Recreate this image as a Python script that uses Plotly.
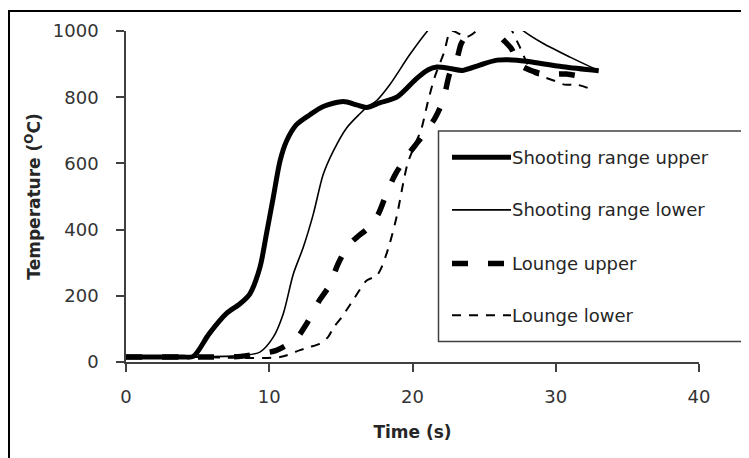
import plotly.graph_objects as go

# ---------------- data ----------------
series_names = ["Shooting range upper", "Shooting range lower", "Lounge upper", "Lounge lower"]

sr_upper_t = [0, 2, 4, 4.7, 5.8, 7.0, 7.96, 8.65, 9.35, 9.8, 10.28, 10.75, 11.2, 11.9, 12.84,
              13.77, 15.16, 16.1, 16.8, 17.7, 18.9, 20.3, 21.1, 21.7, 22.6, 23.5, 24.7, 25.9,
              27.3, 28.2, 30.5, 33.0]
sr_upper_T = [15, 15, 15, 17, 85, 146, 176, 206, 286, 386, 497, 607, 667, 717, 747,
              772, 787, 777, 769, 783, 800, 857, 883, 891, 887, 881, 897, 912,
              912, 907, 892, 880]

sr_lower_t = [0, 4, 8.2, 9.35, 10.28, 10.98, 11.68, 12.37, 13.07, 13.77, 14.47, 15.4, 16.33,
              16.8, 17.5, 18.4, 19.8, 21.1, 23.0, 25.0, 26.5, 27.7, 29.1, 31.0, 32.85]
sr_lower_T = [15, 15, 20, 30, 75, 146, 266, 346, 446, 567, 637, 707, 750,
              769, 790, 837, 928, 1003, 1090, 1110, 1060, 1002, 963, 921, 883]

lounge_upper_t = [0, 4, 8, 9.1, 10.5, 11.9, 12.6, 13.5, 14.2, 14.8, 15.5, 16.2, 16.8, 17.6,
                  18.2, 18.8, 19.7, 20.6, 21.56, 22.14, 22.6, 23.08, 23.4, 23.9, 24.7, 25.3,
                  25.75, 26.3, 26.9, 27.5, 29.1, 30.75, 32.4]
lounge_upper_T = [15, 15, 17, 24, 35, 72, 115, 186, 231, 296, 351, 380, 401, 446,
                  511, 567, 627, 677, 736, 791, 872, 912, 962, 992, 1010, 1030,
                  1002, 975, 947, 898, 870, 870, 857]

lounge_lower_t = [0, 5, 10.75, 12.1, 12.8, 13.5, 14.1, 14.5, 15.05, 15.9, 16.8, 17.5, 17.84,
                  18.1, 18.4, 18.9, 19.35, 19.66, 20.2, 20.6, 21.1, 21.56, 22.2, 22.7, 23.8,
                  24.6, 25.5, 26.5, 27.4, 28.4, 29.1, 30.0, 30.6, 31.45, 32.3]
lounge_lower_T = [15, 15, 15, 35, 45, 55, 75, 105, 135, 190, 246, 261, 286,
                  316, 356, 440, 540, 600, 660, 701, 791, 862, 935, 1000, 982,
                  1005, 1040, 1030, 960, 873, 862, 848, 838, 838, 827]

x_ticks = [0, 10, 20, 30, 40]
y_ticks = [0, 200, 400, 600, 800, 1000]

# ---------------- styles ----------------
styles = [
    dict(color="black", width=5, dash="solid"),
    dict(color="black", width=1.6, dash="solid"),
    dict(color="black", width=5.5, dash="16px,20px"),
    dict(color="black", width=2, dash="9px,8px"),
]
data_sets = [(sr_upper_t, sr_upper_T), (sr_lower_t, sr_lower_T),
             (lounge_upper_t, lounge_upper_T), (lounge_lower_t, lounge_lower_T)]

FONT = "DejaVu Sans"
OFF = 8  # page body margin in the browser
W, H = 749 - OFF, 458 - OFF
# target plot area in viewport pixels: x 126..699, y 29..362
ML, MT = 126 - OFF, 29 - OFF
MR, MB = (OFF + W) - 699, (OFF + H) - 362
PW, PH = W - ML - MR, H - MT - MB


def px(xv):
    return (xv - OFF - ML) / PW


def py(yv):
    return (OFF + H - MB - yv) / PH


fig = go.Figure()
for name, (t, T), st in zip(series_names, data_sets, styles):
    fig.add_trace(go.Scatter(
        x=t, y=T, mode="lines", name=name, showlegend=False,
        line=dict(color=st["color"], width=st["width"], dash=st["dash"],
                  shape="spline", smoothing=0.8),
    ))

# ---------------- manual legend ----------------
shapes = []
annotations = []
shapes.append(dict(type="rect", xref="paper", yref="paper",
                   x0=px(438.5), x1=px(745.5), y0=py(341.5), y1=py(129.5),
                   line=dict(color="#404040", width=1.5), fillcolor="white", layer="above"))
legend_y = [156, 209, 263, 315]
for name, st, ly in zip(series_names, styles, legend_y):
    shapes.append(dict(type="line", xref="paper", yref="paper",
                       x0=px(452), x1=px(511), y0=py(ly), y1=py(ly),
                       line=dict(color=st["color"], width=st["width"], dash=st["dash"]),
                       layer="above"))
    annotations.append(dict(text=name, xref="paper", yref="paper", x=px(510), y=py(ly),
                            xanchor="left", yanchor="middle", showarrow=False,
                            font=dict(family=FONT, size=18, color="#262626")))

# outer frame
shapes.append(dict(type="rect", xref="paper", yref="paper",
                   x0=px(9), x1=px(770), y0=py(480), y1=py(9),
                   line=dict(color="black", width=2), layer="above"))

fig.update_layout(
    width=W, height=H, autosize=False,
    margin=dict(l=ML, r=MR, t=MT, b=MB, pad=0),
    paper_bgcolor="white", plot_bgcolor="white",
    font=dict(family=FONT, size=18, color="#333333"),
    shapes=shapes, annotations=annotations,
    xaxis=dict(range=[0, 40], tickvals=x_ticks, ticktext=[str(v) for v in x_ticks],
               showgrid=False, zeroline=False, showline=True, linecolor="#404040",
               linewidth=1.5, ticks="outside", ticklen=8, tickwidth=1.5, tickcolor="#404040",
               ticklabelstandoff=10,
               tickfont=dict(family=FONT, size=18, color="#333333"),
               title=dict(text="<b>Time (s)</b>", standoff=20,
                          font=dict(family=FONT, size=17, color="#262626"))),
    yaxis=dict(range=[0, 1000], tickvals=y_ticks, ticktext=[str(v) for v in y_ticks],
               showgrid=False, zeroline=False, showline=True, linecolor="#404040",
               linewidth=1.5, ticks="outside", ticklen=8, tickwidth=1.5, tickcolor="#404040",
               ticklabelstandoff=14,
               tickfont=dict(family=FONT, size=18, color="#333333"),
               title=dict(text="<b>Temperature (<sup>O</sup>C)</b>", standoff=8,
                          font=dict(family=FONT, size=17, color="#262626"))),
)

fig.write_html("out.html")
